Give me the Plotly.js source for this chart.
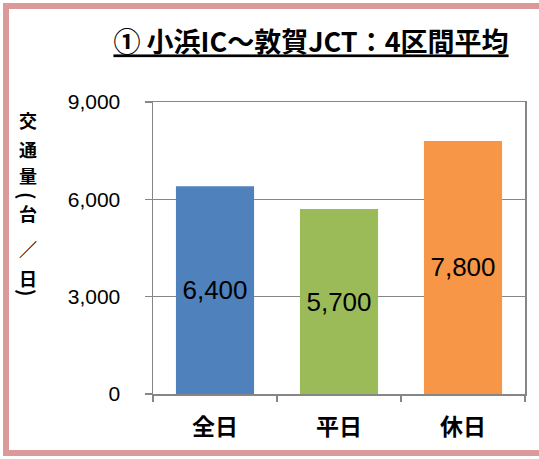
<!DOCTYPE html>
<html>
<head>
<meta charset="utf-8">
<script src="https://cdn.plot.ly/plotly-3.0.1.min.js"></script>
<style>
  html, body { margin: 0; padding: 0; background: #ffffff; overflow: hidden; }
  #wrap { position: relative; width: 539px; height: 459px; overflow: hidden; }
  #chart { position: absolute; left: 0; top: 0; width: 539px; height: 459px; }
  #frame { position: absolute; left: 3px; top: 3px; width: 560px; height: 453px;
           border: 6px solid #DB9A99; box-sizing: border-box; pointer-events: none; }
</style>
</head>
<body>
<div id="wrap">
  <div id="chart"></div>
  <div id="frame"></div>
</div>
<script>
const titleText = "① 小浜IC～敦賀JCT：4区間平均";
const categories = ["全日", "平日", "休日"];
const trafficValues = [6400, 5700, 7800];
const barColors = ["#4F81BD", "#9BBB59", "#F79646"];
const yTickValues = [0, 3000, 6000, 9000];
const yTitleChars = ["交", "通", "量", "(", "台", "／", "日", ")"];

const W = 539, H = 459;
const margin = { l: 153, r: 14, t: 102, b: 65 };
const plotW = W - margin.l - margin.r;
const plotH = H - margin.t - margin.b;

// vertical placement (pixels from top) of the stacked y-axis title characters
const yTitleCentersPx = [120, 149, 175, 196, 213, 248, 278, 293];

const trace = {
  type: "bar",
  x: categories,
  y: trafficValues,
  marker: { color: barColors, line: { width: 0 } },
  texttemplate: "%{y:,}",
  textposition: "inside",
  insidetextanchor: "middle",
  textangle: 0,
  constraintext: "none",
  textfont: { family: "'Liberation Sans', Arial, sans-serif", size: 26, color: "#000000" },
  hoverinfo: "none"
};

// brackets are turned a quarter turn so they read as vertical-writing brackets
const titleAnnotations = yTitleChars.map((ch, i) => {
  const isParen = (ch === "(" || ch === ")");
  return {
    text: "<b>" + ch + "</b>",
    xref: "paper", yref: "paper",
    x: (28 - margin.l) / plotW,
    y: (margin.t + plotH - yTitleCentersPx[i]) / plotH,
    xanchor: "center", yanchor: "middle",
    textangle: isParen ? 90 : 0,
    showarrow: false,
    font: { family: "'Noto Sans CJK JP', sans-serif", size: isParen ? 20 : 18, color: "#000000" }
  };
});

const layout = {
  width: W, height: H,
  margin: margin,
  paper_bgcolor: "#ffffff",
  plot_bgcolor: "#ffffff",
  showlegend: false,
  bargap: 0.37,
  title: {
    text: "<b><u>" + titleText + "</u></b>",
    font: { family: "'Noto Sans CJK JP', sans-serif", size: 27, color: "#000000" },
    x: 311 / W, xref: "container", xanchor: "center",
    y: 1 - 43 / H, yref: "container", yanchor: "middle"
  },
  xaxis: {
    type: "category",
    showgrid: false,
    showline: true, linecolor: "#868686", linewidth: 1.5, mirror: true,
    ticks: "outside", tickson: "boundaries", ticklen: 6, tickcolor: "#868686", tickwidth: 1.5,
    tickfont: { family: "'Noto Sans CJK JP', sans-serif", size: 23, color: "#000000", weight: "bold" },
    ticklabelstandoff: 12
  },
  yaxis: {
    range: [0, 9000],
    tickvals: yTickValues,
    tickformat: ",d",
    showgrid: true, gridcolor: "#868686", gridwidth: 1.5,
    showline: true, linecolor: "#868686", linewidth: 1.5, mirror: true,
    ticks: "outside", ticklen: 7, tickcolor: "#868686", tickwidth: 1.5,
    zeroline: false,
    tickfont: { family: "'Liberation Sans', Arial, sans-serif", size: 21, color: "#000000" },
    ticklabelstandoff: 20
  },
  annotations: titleAnnotations
};

Plotly.newPlot("chart", [trace], layout, { staticPlot: true, displayModeBar: false });
</script>
</body>
</html>
